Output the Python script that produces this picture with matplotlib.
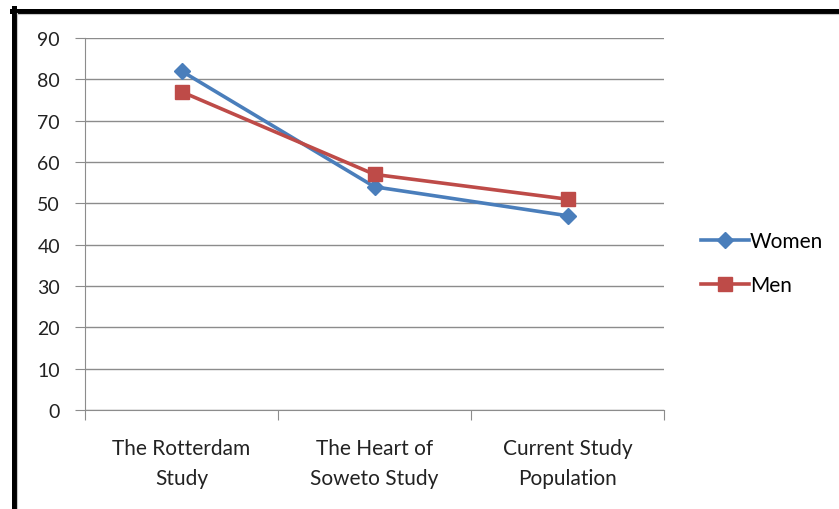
import numpy as np
import matplotlib.pyplot as plt
from matplotlib.lines import Line2D

plt.rcParams['font.family'] = ['Lato', 'DejaVu Sans']

# survey values per study
studies = ["The Rotterdam\nStudy", "The Heart of\nSoweto Study", "Current Study\nPopulation"]
women = [82, 54, 47]
men = [77, 57, 51]
yticks = [0, 10, 20, 30, 40, 50, 60, 70, 80, 90]

W, H = 839, 510
fig = plt.figure(figsize=(W / 100, H / 100), dpi=100)
ax = fig.add_axes([85 / W, 1 - 411 / H, (664 - 85) / W, (411 - 39) / H])

blue, red = "#4A7EBB", "#BE4B48"
x = np.arange(len(studies))
ax.plot(x, women, color=blue, lw=2.6, marker="D", ms=8.5, label="Women", zorder=3)
ax.plot(x, men, color=red, lw=2.6, marker="s", ms=10.5, label="Men", zorder=3)

ax.set_xlim(-0.5, len(studies) - 0.5)
ax.set_ylim(0, 90)
ax.set_yticks(yticks)
ax.yaxis.grid(True, color="#8c8c8c", lw=1)
ax.set_axisbelow(True)

# category boundaries carry the tick marks, labels sit in the middle
ax.set_xticks(np.arange(-0.5, len(studies)), minor=False)
ax.set_xticklabels([])
ax.set_xticks(x, minor=True)
ax.set_xticklabels(studies, minor=True, fontsize=15, color="#222222", linespacing=1.62)
ax.tick_params(axis="x", which="major", length=7, color="#8c8c8c")
ax.tick_params(axis="x", which="minor", length=0, pad=20)
ax.tick_params(axis="y", length=7, color="#8c8c8c", labelsize=14, labelcolor="#222222", pad=11)

for s in ["top", "right"]:
    ax.spines[s].set_visible(False)
for s in ["left", "bottom"]:
    ax.spines[s].set_color("#8c8c8c")

leg = fig.legend(handles=[
    Line2D([], [], color=blue, lw=2.6, marker="D", ms=8.5),
    Line2D([], [], color=red, lw=2.6, marker="s", ms=10.5)],
    labels=["Women", "Men"], loc="center left",
    bbox_to_anchor=(682 / W, 1 - 264 / H), frameon=False, fontsize=15,
    handlelength=2.3, handletextpad=0.05, labelspacing=1.15)

# black frame on the left and top edges with a faint shadow line
fig.add_artist(Line2D([14 / W, 14 / W], [0, 1 - 9 / H], color="black", lw=3.6))
fig.add_artist(Line2D([12 / W, 1], [1 - 11.5 / H, 1 - 11.5 / H], color="black", lw=3.6))
fig.add_artist(Line2D([17 / W, 17 / W], [0, 1 - 14 / H], color="#c8c8c8", lw=0.8))
fig.add_artist(Line2D([17 / W, 1], [1 - 14.5 / H, 1 - 14.5 / H], color="#c8c8c8", lw=0.8))

fig.savefig("out.png", dpi=100)
